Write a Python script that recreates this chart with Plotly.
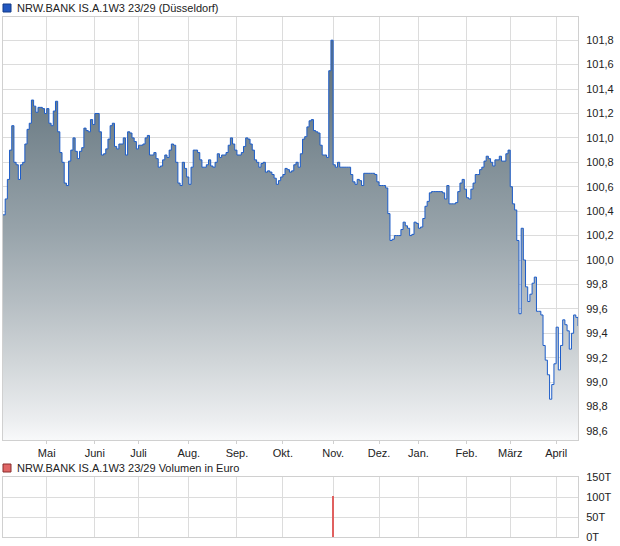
import pandas as pd
import plotly.graph_objects as go

# ---------------- data ----------------
start_date = "2024-04-03"
end_date = "2025-04-15"
holidays = ["2024-05-01", "2024-12-24", "2024-12-25", "2024-12-26", "2024-12-31", "2025-01-01"]
month_labels = ["Mai", "Juni", "Juli", "Aug.", "Sep.", "Okt.", "Nov.", "Dez.", "Jan.", "Feb.", "März", "April"]

prices = [
    100.37, 100.50, 100.66, 100.90, 101.10, 100.80, 100.78, 100.66, 100.78, 100.80,
    100.95, 101.07, 101.12, 101.31, 101.26, 101.21, 101.25, 101.25, 101.24, 101.20,
    101.24, 101.12, 101.10, 101.22, 101.30, 101.05, 100.88, 100.80, 100.63, 100.61,
    100.81, 100.90, 101.00, 100.89, 100.83, 100.89, 100.92, 101.08, 101.06, 101.05,
    101.15, 101.11, 101.20, 101.20, 101.05, 100.86, 100.87, 100.91, 100.99, 101.10,
    101.12, 100.93, 100.91, 100.95, 100.95, 101.00, 100.86, 101.05, 101.04, 101.00,
    100.97, 100.91, 100.94, 100.94, 100.95, 101.00, 101.02, 100.86, 100.86, 100.88,
    100.83, 100.76, 100.77, 100.82, 100.86, 100.84, 100.90, 100.95, 100.94, 100.80,
    100.63, 100.61, 100.80, 100.75, 100.68, 100.62, 100.76, 100.90, 100.90, 100.88,
    100.82, 100.76, 100.76, 100.78, 100.82, 100.77, 100.76, 100.80, 100.87, 100.84,
    100.86, 100.86, 100.88, 100.94, 101.00, 100.95, 100.90, 100.86, 100.86, 100.88,
    100.93, 101.00, 100.99, 100.95, 100.90, 100.82, 100.80, 100.76, 100.79, 100.80,
    100.72, 100.73, 100.72, 100.70, 100.67, 100.62, 100.65, 100.68, 100.70, 100.75,
    100.74, 100.72, 100.73, 100.78, 100.80, 100.76, 100.87, 100.99, 101.01, 101.09,
    101.14, 101.15, 101.06, 101.05, 101.04, 100.94, 100.86, 100.86, 100.84, 101.55,
    101.80, 100.78, 100.76, 100.80, 100.76, 100.76, 100.76, 100.76, 100.76, 100.70,
    100.64, 100.62, 100.66, 100.65, 100.61, 100.71, 100.71, 100.71, 100.71, 100.71,
    100.70, 100.64, 100.61, 100.61, 100.61, 100.59, 100.38, 100.16, 100.17, 100.20,
    100.20, 100.20, 100.25, 100.31, 100.28, 100.26, 100.20, 100.21, 100.31, 100.30,
    100.26, 100.27, 100.34, 100.44, 100.48, 100.55, 100.56, 100.56, 100.56, 100.56,
    100.56, 100.55, 100.50, 100.61, 100.46, 100.46, 100.46, 100.47, 100.56, 100.63,
    100.66, 100.58, 100.51, 100.50, 100.58, 100.63, 100.70, 100.70, 100.74, 100.76,
    100.81, 100.85, 100.83, 100.80, 100.77, 100.82, 100.82, 100.85, 100.81, 100.81,
    100.87, 100.90, 100.60, 100.46, 100.41, 100.16, 99.56, 100.26, 100.00, 99.78,
    99.66, 99.72, 99.81, 99.86, 99.58, 99.58, 99.55, 99.30, 99.18, 99.06,
    98.86, 98.98, 99.15, 99.45, 99.10, 99.30, 99.51, 99.47, 99.42, 99.27,
    99.40, 99.55, 99.53, 99.46,
]

vol_dates = ["2024-11-01"]
vol_values = [103000]
vol_tick_values = [0, 50000, 100000, 150000]
vol_tick_labels = ["0T", "50T", "100T", "150T"]

title_price = "NRW.BANK IS.A.1W3 23/29 (Düsseldorf)"
title_volume = "NRW.BANK IS.A.1W3 23/29 Volumen in Euro"

# ---------------- derived ----------------
dates = [d.strftime("%Y-%m-%d") for d in pd.bdate_range(start_date, end_date)
         if d.strftime("%Y-%m-%d") not in holidays]
n = min(len(dates), len(prices))
dates = dates[:n]
prices = prices[:n]
month_ticks = [d for k, d in enumerate(dates) if k > 0 and d[5:7] != dates[k - 1][5:7]]

# ---------------- figure ----------------
W, H = 620, 546
ml, mr, mt, mb = 3, 42, 17, 9
pw, ph = W - ml - mr, H - mt - mb


def px_x(p):
    return (p - ml) / pw


def px_y(p):
    return (H - mb - p) / ph


grid = "#dcdcdc"
axis_line = "#d0d0d0"
font = dict(family="Liberation Sans, Arial, sans-serif", size=11, color="#222222")

ymin, ymax = 98.526, 101.99

fig = go.Figure()
fig.add_trace(go.Scatter(
    x=dates, y=prices, mode="lines",
    line=dict(color="#1c5cc8", width=1, shape="hv"),
    fill="tozeroy",
    fillgradient=dict(
        type="vertical", start=ymin, stop=ymax,
        colorscale=[[0.0, "#f8f9fa"], [0.046, "#eceef0"], [0.188, "#d0d5d8"],
                    [0.329, "#b5bdc2"], [0.497, "#97a3aa"], [0.803, "#6c7c85"],
                    [1.0, "#627279"]],
    ),
    xaxis="x", yaxis="y", hoverinfo="skip",
))
fig.add_trace(go.Bar(
    x=vol_dates, y=vol_values, width=0.5,
    marker=dict(color="#e0605f", line=dict(width=0)),
    xaxis="x2", yaxis="y2", hoverinfo="skip",
))

main_bottom = px_y(440)
vol_top = px_y(477)

common_x = dict(
    type="category", categoryorder="array", categoryarray=dates,
    range=[0, n - 1], tickvals=month_ticks, showgrid=True, gridcolor=grid,
    gridwidth=1, showline=True, linecolor=axis_line, mirror=True, zeroline=False,
    fixedrange=True,
)

fig.update_layout(
    width=W, height=H,
    margin=dict(l=ml, r=mr, t=mt, b=mb, autoexpand=False),
    paper_bgcolor="white", plot_bgcolor="white",
    separators=",.",
    showlegend=False,
    font=font,
    bargap=0,
    hovermode=False,
    xaxis=dict(common_x, domain=[0, 1], anchor="y", ticktext=month_labels,
               ticks="outside", ticklen=3, tickcolor=axis_line, tickfont=font),
    yaxis=dict(domain=[main_bottom, 1], anchor="x", side="right",
               range=[ymin, ymax], tick0=98.6, dtick=0.2, tickformat=".1f",
               showgrid=True, gridcolor=grid, showline=True, linecolor=axis_line,
               mirror=True, zeroline=False, ticks="", ticklabelstandoff=5,
               tickfont=font, fixedrange=True),
    xaxis2=dict(common_x, domain=[0, 1], anchor="y2", showticklabels=False, ticks=""),
    yaxis2=dict(domain=[0, vol_top], anchor="x2", side="right",
                range=[0, 150000], tickvals=vol_tick_values, ticktext=vol_tick_labels,
                showgrid=True, gridcolor=grid, showline=True, linecolor=axis_line,
                mirror=True, zeroline=False, ticks="", ticklabelstandoff=5,
                tickfont=font, fixedrange=True),
)

fig.add_shape(type="rect", xref="paper", yref="paper",
              x0=px_x(3), x1=px_x(11), y0=px_y(12), y1=px_y(4),
              fillcolor="#2257c0", line=dict(color="#123a88", width=1))
fig.add_annotation(text=title_price, xref="paper", yref="paper",
                   x=px_x(15), y=px_y(7.5), xanchor="left", yanchor="middle",
                   showarrow=False, font=font)
fig.add_shape(type="rect", xref="paper", yref="paper",
              x0=px_x(3), x1=px_x(11), y0=px_y(472), y1=px_y(464),
              fillcolor="#e06666", line=dict(color="#8a2c2c", width=1))
fig.add_annotation(text=title_volume, xref="paper", yref="paper",
                   x=px_x(15), y=px_y(468), xanchor="left", yanchor="middle",
                   showarrow=False, font=font)

fig.write_html("out.html", config={"displayModeBar": False},
               post_script="document.body.style.margin='0px';")
